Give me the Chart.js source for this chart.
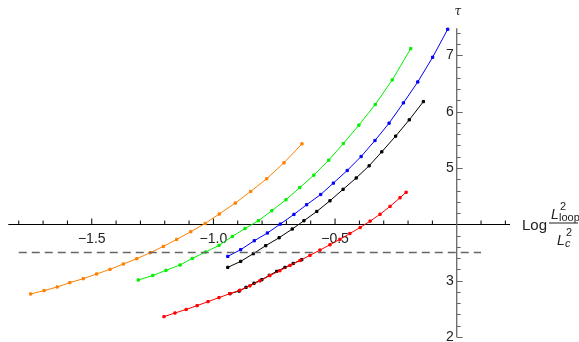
<!DOCTYPE html>
<html>
<head>
<meta charset="utf-8">
<script src="https://cdn.jsdelivr.net/npm/chart.js@4/dist/chart.umd.min.js"></script>
<style>
  body { margin: 0; background: #fff; }
</style>
</head>
<body>
<canvas id="tauChart" width="579" height="342"></canvas>
<script>
// values (x = Log L²loop/L²c, y = tau)
const orangeX = [-1.751, -1.696, -1.642, -1.590, -1.535, -1.480, -1.425, -1.370, -1.315, -1.260, -1.206, -1.151, -1.093, -1.034, -0.976, -0.910, -0.847, -0.781, -0.710, -0.636];
const orangeY = [2.764, 2.823, 2.888, 2.965, 3.035, 3.119, 3.200, 3.296, 3.390, 3.496, 3.608, 3.732, 3.869, 4.016, 4.183, 4.378, 4.583, 4.809, 5.092, 5.429];

const greenX = [-1.309, -1.249, -1.195, -1.137, -1.087, -1.032, -0.977, -0.922, -0.870, -0.815, -0.760, -0.702, -0.645, -0.587, -0.526, -0.466, -0.402, -0.335, -0.265, -0.189];
const greenY = [3.012, 3.092, 3.183, 3.278, 3.395, 3.509, 3.626, 3.785, 3.927, 4.064, 4.241, 4.436, 4.652, 4.874, 5.140, 5.434, 5.761, 6.126, 6.564, 7.119];

const blueX = [-0.941, -0.888, -0.832, -0.778, -0.725, -0.669, -0.617, -0.559, -0.507, -0.450, -0.393, -0.336, -0.278, -0.219, -0.160, -0.099, -0.037];
const blueY = [3.431, 3.550, 3.709, 3.846, 4.005, 4.176, 4.348, 4.530, 4.732, 4.956, 5.204, 5.488, 5.796, 6.156, 6.528, 6.966, 7.463];

const blackX = [-0.941, -0.888, -0.836, -0.785, -0.730, -0.676, -0.628, -0.575, -0.521, -0.467, -0.413, -0.360, -0.308, -0.251, -0.195, -0.137];
const blackY = [3.236, 3.342, 3.479, 3.621, 3.762, 3.917, 4.064, 4.229, 4.418, 4.622, 4.823, 5.039, 5.287, 5.566, 5.855, 6.179];

const redX = [-1.203, -1.158, -1.112, -1.067, -1.022, -0.977, -0.932, -0.891, -0.850, -0.809, -0.768, -0.727, -0.685, -0.644, -0.603, -0.562, -0.521, -0.480, -0.439, -0.397, -0.356, -0.315, -0.274, -0.233, -0.208];
const redY = [2.362, 2.426, 2.489, 2.557, 2.628, 2.699, 2.770, 2.830, 2.908, 2.996, 3.090, 3.177, 3.271, 3.358, 3.450, 3.543, 3.637, 3.734, 3.837, 3.943, 4.057, 4.179, 4.319, 4.472, 4.569];

const black2X = [-0.932, -0.894, -0.866, -0.833, -0.801, -0.770, -0.740, -0.706, -0.672, -0.637];
const black2Y = [2.770, 2.815, 2.881, 2.955, 3.018, 3.095, 3.165, 3.235, 3.305, 3.372];

const dashX = [-1.8, 0.1];
const dashY = [3.5, 3.5];

const xTicks = [-1.5, -1.0, -0.5];
const xTickLabels = ["\u22121.5", "\u22121.0", "\u22120.5"];
const yTicks = [2, 3, 5, 6, 7];
const yTickLabels = ["2", "3", "5", "6", "7"];

const toPoints = (xs, ys) => xs.map((v, i) => ({x: v, y: ys[i]}));

const series = (pts, color) => ({
    data: pts,
    borderColor: color,
    backgroundColor: color,
    borderWidth: 1,
    pointStyle: "rect",
    pointRadius: 1.6,
    pointBorderWidth: 1,
    tension: 0,
    clip: false
});

// axes through (0, 4), Mathematica style
const axesPlugin = {
    id: "axes",
    beforeDatasetsDraw(chart) {
        const {ctx, scales: {x, y}} = chart;
        const x0 = x.getPixelForValue(0);
        const y0 = Math.round(y.getPixelForValue(4)) + 0.5;
        ctx.save();

        // horizontal axis
        ctx.strokeStyle = "#000";
        ctx.lineWidth = 1;
        ctx.beginPath();
        ctx.moveTo(x.left, y0);
        ctx.lineTo(x.right, y0);
        for (let t = -18; t <= 2; t++) {
            if (t === 0) continue;
            const px = x.getPixelForValue(t / 10);
            const len = (t % 5 === 0) ? 6 : 4;
            ctx.moveTo(px, y0);
            ctx.lineTo(px, y0 - len);
        }
        ctx.stroke();

        // vertical axis
        ctx.strokeStyle = "#666";
        ctx.lineWidth = 1.3;
        ctx.beginPath();
        ctx.moveTo(x0, y.top);
        ctx.lineTo(x0, y.bottom);
        ctx.stroke();
        ctx.lineWidth = 1;
        ctx.beginPath();
        for (let t = 10; t <= 37; t++) {
            if (t === 20) continue;
            const py = Math.round(y.getPixelForValue(t / 5)) + 0.5;
            const len = (t % 5 === 0) ? 6 : 4;
            ctx.moveTo(x0, py);
            ctx.lineTo(x0 + len, py);
        }
        ctx.stroke();

        // tick labels
        ctx.fillStyle = "#222";
        ctx.font = "14px 'Liberation Sans', Arial, sans-serif";
        ctx.textAlign = "center";
        ctx.textBaseline = "middle";
        xTicks.forEach((v, i) => ctx.fillText(xTickLabels[i], x.getPixelForValue(v), y0 + 15));
        ctx.textAlign = "right";
        yTicks.forEach((v, i) => ctx.fillText(yTickLabels[i], x0 - 3, y.getPixelForValue(v)));

        // axis labels
        ctx.textAlign = "center";
        ctx.font = "italic 12px 'DejaVu Serif', serif";
        ctx.fillText("\u03c4", x0 + 1, 12);

        ctx.textAlign = "left";
        ctx.textBaseline = "alphabetic";
        ctx.font = "15px 'Liberation Sans', Arial, sans-serif";
        ctx.fillText("Log", 522, y0 + 5);
        ctx.fillRect(549, y0 - 2, 29, 1);
        ctx.font = "italic 14px 'Liberation Sans', Arial, sans-serif";
        ctx.fillText("L", 551, y0 - 6);
        ctx.fillText("L", 557, y0 + 20);
        ctx.font = "11px 'Liberation Sans', Arial, sans-serif";
        ctx.fillText("2", 560, y0 - 15);
        ctx.fillText("loop", 559, y0 - 4);
        ctx.fillText("2", 566, y0 + 11);
        ctx.font = "italic 11px 'Liberation Sans', Arial, sans-serif";
        ctx.fillText("c", 565, y0 + 22);

        ctx.restore();
    }
};

new Chart(document.getElementById("tauChart"), {
    type: "line",
    data: {
        datasets: [
            {
                data: toPoints(dashX, dashY),
                borderColor: "#666",
                borderWidth: 1.5,
                borderDash: [8, 5],
                pointRadius: 0,
                clip: false
            },
            series(toPoints(orangeX, orangeY), "rgb(255,128,0)"),
            series(toPoints(greenX, greenY), "rgb(0,240,0)"),
            series(toPoints(blueX, blueY), "rgb(0,0,255)"),
            series(toPoints(blackX, blackY), "#000"),
            series(toPoints(redX, redY), "rgb(255,0,0)"),
            series(toPoints(black2X, black2Y), "#000")
        ]
    },
    options: {
        responsive: false,
        animation: false,
        layout: {
            padding: {left: 8.3, right: 69, top: 28.3, bottom: 4.6}
        },
        scales: {
            x: {type: "linear", min: -1.843, max: 0.219, display: false},
            y: {type: "linear", min: 2, max: 7.48, display: false}
        },
        plugins: {
            legend: {display: false},
            tooltip: {enabled: false}
        }
    },
    plugins: [axesPlugin]
});
</script>
</body>
</html>
